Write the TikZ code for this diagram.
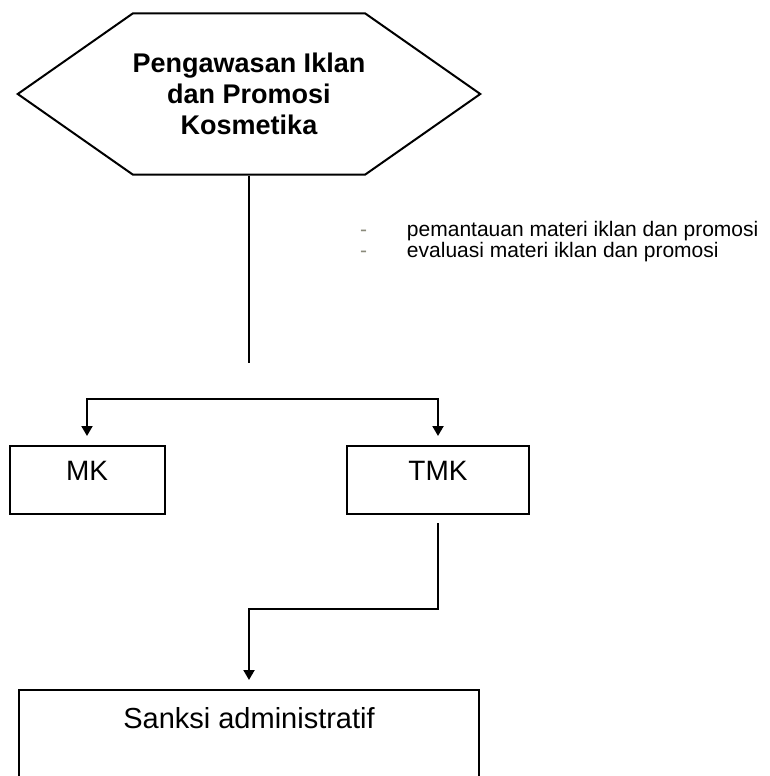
\documentclass[tikz,border=0pt]{standalone}
\usepackage{fontspec}
\setmainfont{Liberation Sans}
\usepackage{xcolor}
\usetikzlibrary{positioning,arrows.meta,shapes.symbols}
\definecolor{dashgray}{RGB}{138,138,122}

\begin{document}
\begin{tikzpicture}[
x=1pt,
y=-1pt,
>={Triangle[width=11pt,length=10pt]},
line width=2pt,
every node/.style={inner sep=0pt},
judul/.style={
draw,
signal,
signal to=west and east,
signal pointer angle=70,
minimum width=460pt,
minimum height=161pt,
align=center,
font=\fontsize{27}{31}\selectfont\bfseries
},
box/.style={
draw,
rectangle,
minimum height=68pt,
text depth=18pt,
font=\fontsize{28}{32}\selectfont
}
]
\useasboundingbox (0,0) rectangle (769,776);
\clip (0,0) rectangle (769,776);

\node[judul] (pengawasan) at (249,94) {Pengawasan Iklan\\dan Promosi\\Kosmetika};
\coordinate (ujung) at (249,363);

\node[anchor=west,font=\fontsize{21}{17}\selectfont] (kegiatan) at (359,242) {%
\begin{tabular}{@{}l@{\hspace{40pt}}l@{}}
\textcolor{dashgray}{-} & pemantauan materi iklan dan promosi\\
\textcolor{dashgray}{-} & evaluasi materi iklan dan promosi
\end{tabular}};

\node[box,minimum width=155pt] (mk) at (87,480) {MK};
\node[box,minimum width=182pt] (tmk) at (438,480) {TMK};
\node[box,minimum width=460pt,anchor=north,text depth=120pt,inner ysep=17pt,
font=\fontsize{29}{33}\selectfont] (sanksi) at (249,689) {Sanksi administratif};

\draw (pengawasan.south) -- (ujung);
\draw[<->,shorten <=9pt,shorten >=9pt] (mk.north) -- ++(0,-46) -| (tmk.north);
\draw[->,shorten <=8pt,shorten >=9pt] (tmk.south) -- ++(0,94) -| (sanksi.north);

\end{tikzpicture}
\end{document}
